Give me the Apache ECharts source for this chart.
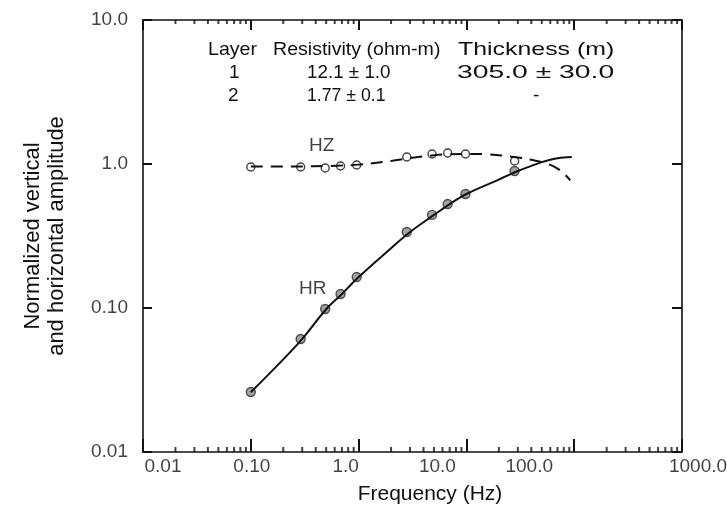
<!DOCTYPE html>
<html><head><meta charset="utf-8">
<script src="https://cdn.jsdelivr.net/npm/echarts@6/dist/echarts.min.js"></script>
<style>html,body{margin:0;padding:0;background:#fff}#c{width:727px;height:519px}</style>
</head><body><div id="c"></div>
<script>
// Observed data (open circles = HZ, filled circles = HR)
const freqObs = [0.1, 0.29, 0.49, 0.68, 0.96, 2.8, 4.8, 6.7, 9.8, 28];
const hzObs   = [0.953, 0.953, 0.938, 0.969, 0.984, 1.118, 1.174, 1.192, 1.174, 1.049];
const hrObs   = [0.0261, 0.0609, 0.0984, 0.125, 0.164, 0.337, 0.443, 0.527, 0.619, 0.894];
// Model curves
const hzModelFreq = [0.1, 0.2, 0.3, 0.5, 0.7, 1, 2, 3, 5, 7, 10, 15, 20, 30, 40, 50, 60, 70, 80, 92];
const hzModel     = [0.96, 0.96, 0.962, 0.968, 0.975, 0.99, 1.05, 1.10, 1.15, 1.17, 1.175, 1.17, 1.15, 1.11, 1.07, 1.03, 0.985, 0.93, 0.86, 0.77];
const hrModelFreq = [0.1, 0.2, 0.3, 0.5, 0.7, 1, 2, 3, 5, 7, 10, 20, 30, 40, 50, 60, 70, 80, 95];
const hrModel     = [0.026, 0.044, 0.061, 0.098, 0.125, 0.164, 0.26, 0.337, 0.443, 0.527, 0.619, 0.78, 0.894, 0.97, 1.03, 1.07, 1.095, 1.11, 1.118];
// Tick values and labels
const xTickValues = [0.01, 0.1, 1, 10, 100, 1000];
const xTickLabels = ['0.01', '0.10', '1.0', '10.0', '100.0', '1000.0'];
const xTickShift  = [20, 1, -13, -29, -45, 16];
const yTickValues = [0.01, 0.1, 1, 10];
const yTickLabels = ['0.01', '0.10', '1.0', '10.0'];
// Minor tick multipliers per decade on the frequency axis
const minorMult = [2, 3, 4, 5, 6, 7, 8, 9];
const decades = [0.01, 0.1, 1, 10, 100];
// Annotations
const curveLabels = [['HZ', 0.454, 1.33], ['HR', 0.375, 0.136]];
// Titles
const xTitle = 'Frequency (Hz)';
const yTitle = ['Normalized vertical', 'and horizontal amplitude'];
// Table
const tableHeader = ['Layer', 'Resistivity (ohm-m)', 'Thickness (m)'];
const tableRows = [['1', '12.1 \u00b1 1.0', '305.0 \u00b1 30.0'], ['2', '1.77 \u00b1 0.1', '-']];

const FONT = '"Liberation Sans", Arial, sans-serif';
const INK = '#111111';
const X_MIN = 0.01, X_MAX = 1000, Y_MIN = 0.01, Y_MAX = 10;

const minorTicks = [];
decades.forEach(d => minorMult.forEach(m => minorTicks.push(+(m * d).toPrecision(3))));

function zip(a, b) { return a.map((v, i) => [v, b[i]]); }

// Text elements: table and axis titles
const graphics = [];
const headerX = [208, 273, 458], headerScale = [1.03, 1.03, 1.31];
const rowX = [[229, 307, 457], [228, 307, 533]];
const rowScale = [[1, 0.99, 1.49], [1, 0.93, 1]];
tableHeader.forEach((t, i) => graphics.push({ type: 'text', x: headerX[i], y: 50, scaleX: headerScale[i],
  style: { text: t, font: '19px ' + FONT, fill: INK, verticalAlign: 'middle' } }));
tableRows.forEach((r, j) => r.forEach((t, i) => graphics.push({ type: 'text', x: rowX[j][i], y: 73 + 23 * j,
  scaleX: rowScale[j][i], style: { text: t, font: '19px ' + FONT, fill: INK, verticalAlign: 'middle' } })));
graphics.push({ type: 'text', x: 430, y: 494,
  style: { text: xTitle, font: '21px ' + FONT, fill: INK, align: 'center', verticalAlign: 'middle' } });
yTitle.forEach((t, i) => graphics.push({ type: 'text', x: 33 + 24 * i, y: 236, rotation: Math.PI / 2,
  style: { text: t, font: '22px ' + FONT, fill: INK, align: 'center', verticalAlign: 'middle' } }));

function axisLine(show) { return { show, onZero: false, lineStyle: { color: INK, width: 1.6 } }; }
function tick(len) { return { show: true, inside: true, length: len, lineStyle: { color: INK, width: 2 } }; }
function logAxis(min, max, position, len, line) {
  return { type: 'log', min, max, position, axisLine: axisLine(line), splitLine: { show: false },
    axisTick: tick(len), axisLabel: { show: false } };
}

const chart = echarts.init(document.getElementById('c'), null, { renderer: 'canvas' });
const option = {
  backgroundColor: '#fff',
  animation: false,
  grid: { left: 143, right: 45, top: 20, bottom: 67, containLabel: false },
  xAxis: [logAxis(X_MIN, X_MAX, 'bottom', 13, true), logAxis(X_MIN, X_MAX, 'top', 10, true),
          logAxis(X_MIN, X_MAX, 'bottom', 13, false)],
  yAxis: [logAxis(Y_MIN, Y_MAX, 'left', 9, true), logAxis(Y_MIN, Y_MAX, 'right', 10, true),
          logAxis(Y_MIN, Y_MAX, 'left', 9, false)],
  series: [
    {
      type: 'line', data: zip(hzModelFreq, hzModel), smooth: 0.4, showSymbol: false,
      lineStyle: { color: INK, width: 2, type: [12, 8] }
    },
    {
      type: 'line', data: zip(hrModelFreq, hrModel), smooth: 0.4, showSymbol: false,
      lineStyle: { color: INK, width: 2 }
    },
    {
      type: 'scatter', data: zip(freqObs, hzObs), symbol: 'circle', symbolSize: 8,
      itemStyle: { color: '#fff', borderColor: INK, borderWidth: 1.4 }
    },
    {
      type: 'scatter', data: zip(freqObs, hrObs), symbol: 'circle', symbolSize: 9,
      itemStyle: { color: '#8c8c8c', borderColor: '#2a2a2a', borderWidth: 1.4 }
    },
    {
      type: 'scatter', clip: false,
      data: minorTicks.map(v => [v, Y_MIN]), symbol: 'rect', symbolSize: [2, 5], symbolOffset: [0, -2.5],
      itemStyle: { color: INK }
    },
    {
      type: 'scatter', clip: false,
      data: minorTicks.map(v => [v, Y_MAX]), symbol: 'rect', symbolSize: [2, 4], symbolOffset: [0, 2],
      itemStyle: { color: INK }
    },
    {
      type: 'scatter', clip: false, symbolSize: 0,
      data: xTickValues.map((v, i) => ({ value: [v, Y_MIN],
        label: { formatter: xTickLabels[i], offset: [xTickShift[i], 0] } })),
      label: { show: true, position: 'bottom', distance: 5, fontSize: 19, fontFamily: FONT, color: INK }
    },
    {
      type: 'scatter', clip: false, symbolSize: 0,
      data: yTickValues.map((v, i) => ({ value: [X_MIN, v], label: { formatter: yTickLabels[i] } })),
      label: { show: true, position: 'left', distance: 15, fontSize: 19, fontFamily: FONT, color: INK }
    },
    {
      type: 'scatter', symbolSize: 0,
      data: curveLabels.map(d => ({ value: [d[1], d[2]], label: { formatter: d[0] } })),
      label: { show: true, position: 'inside', fontSize: 19, fontFamily: FONT, color: INK }
    }
  ],
  graphic: graphics
};
chart.setOption(option);
</script></body></html>
